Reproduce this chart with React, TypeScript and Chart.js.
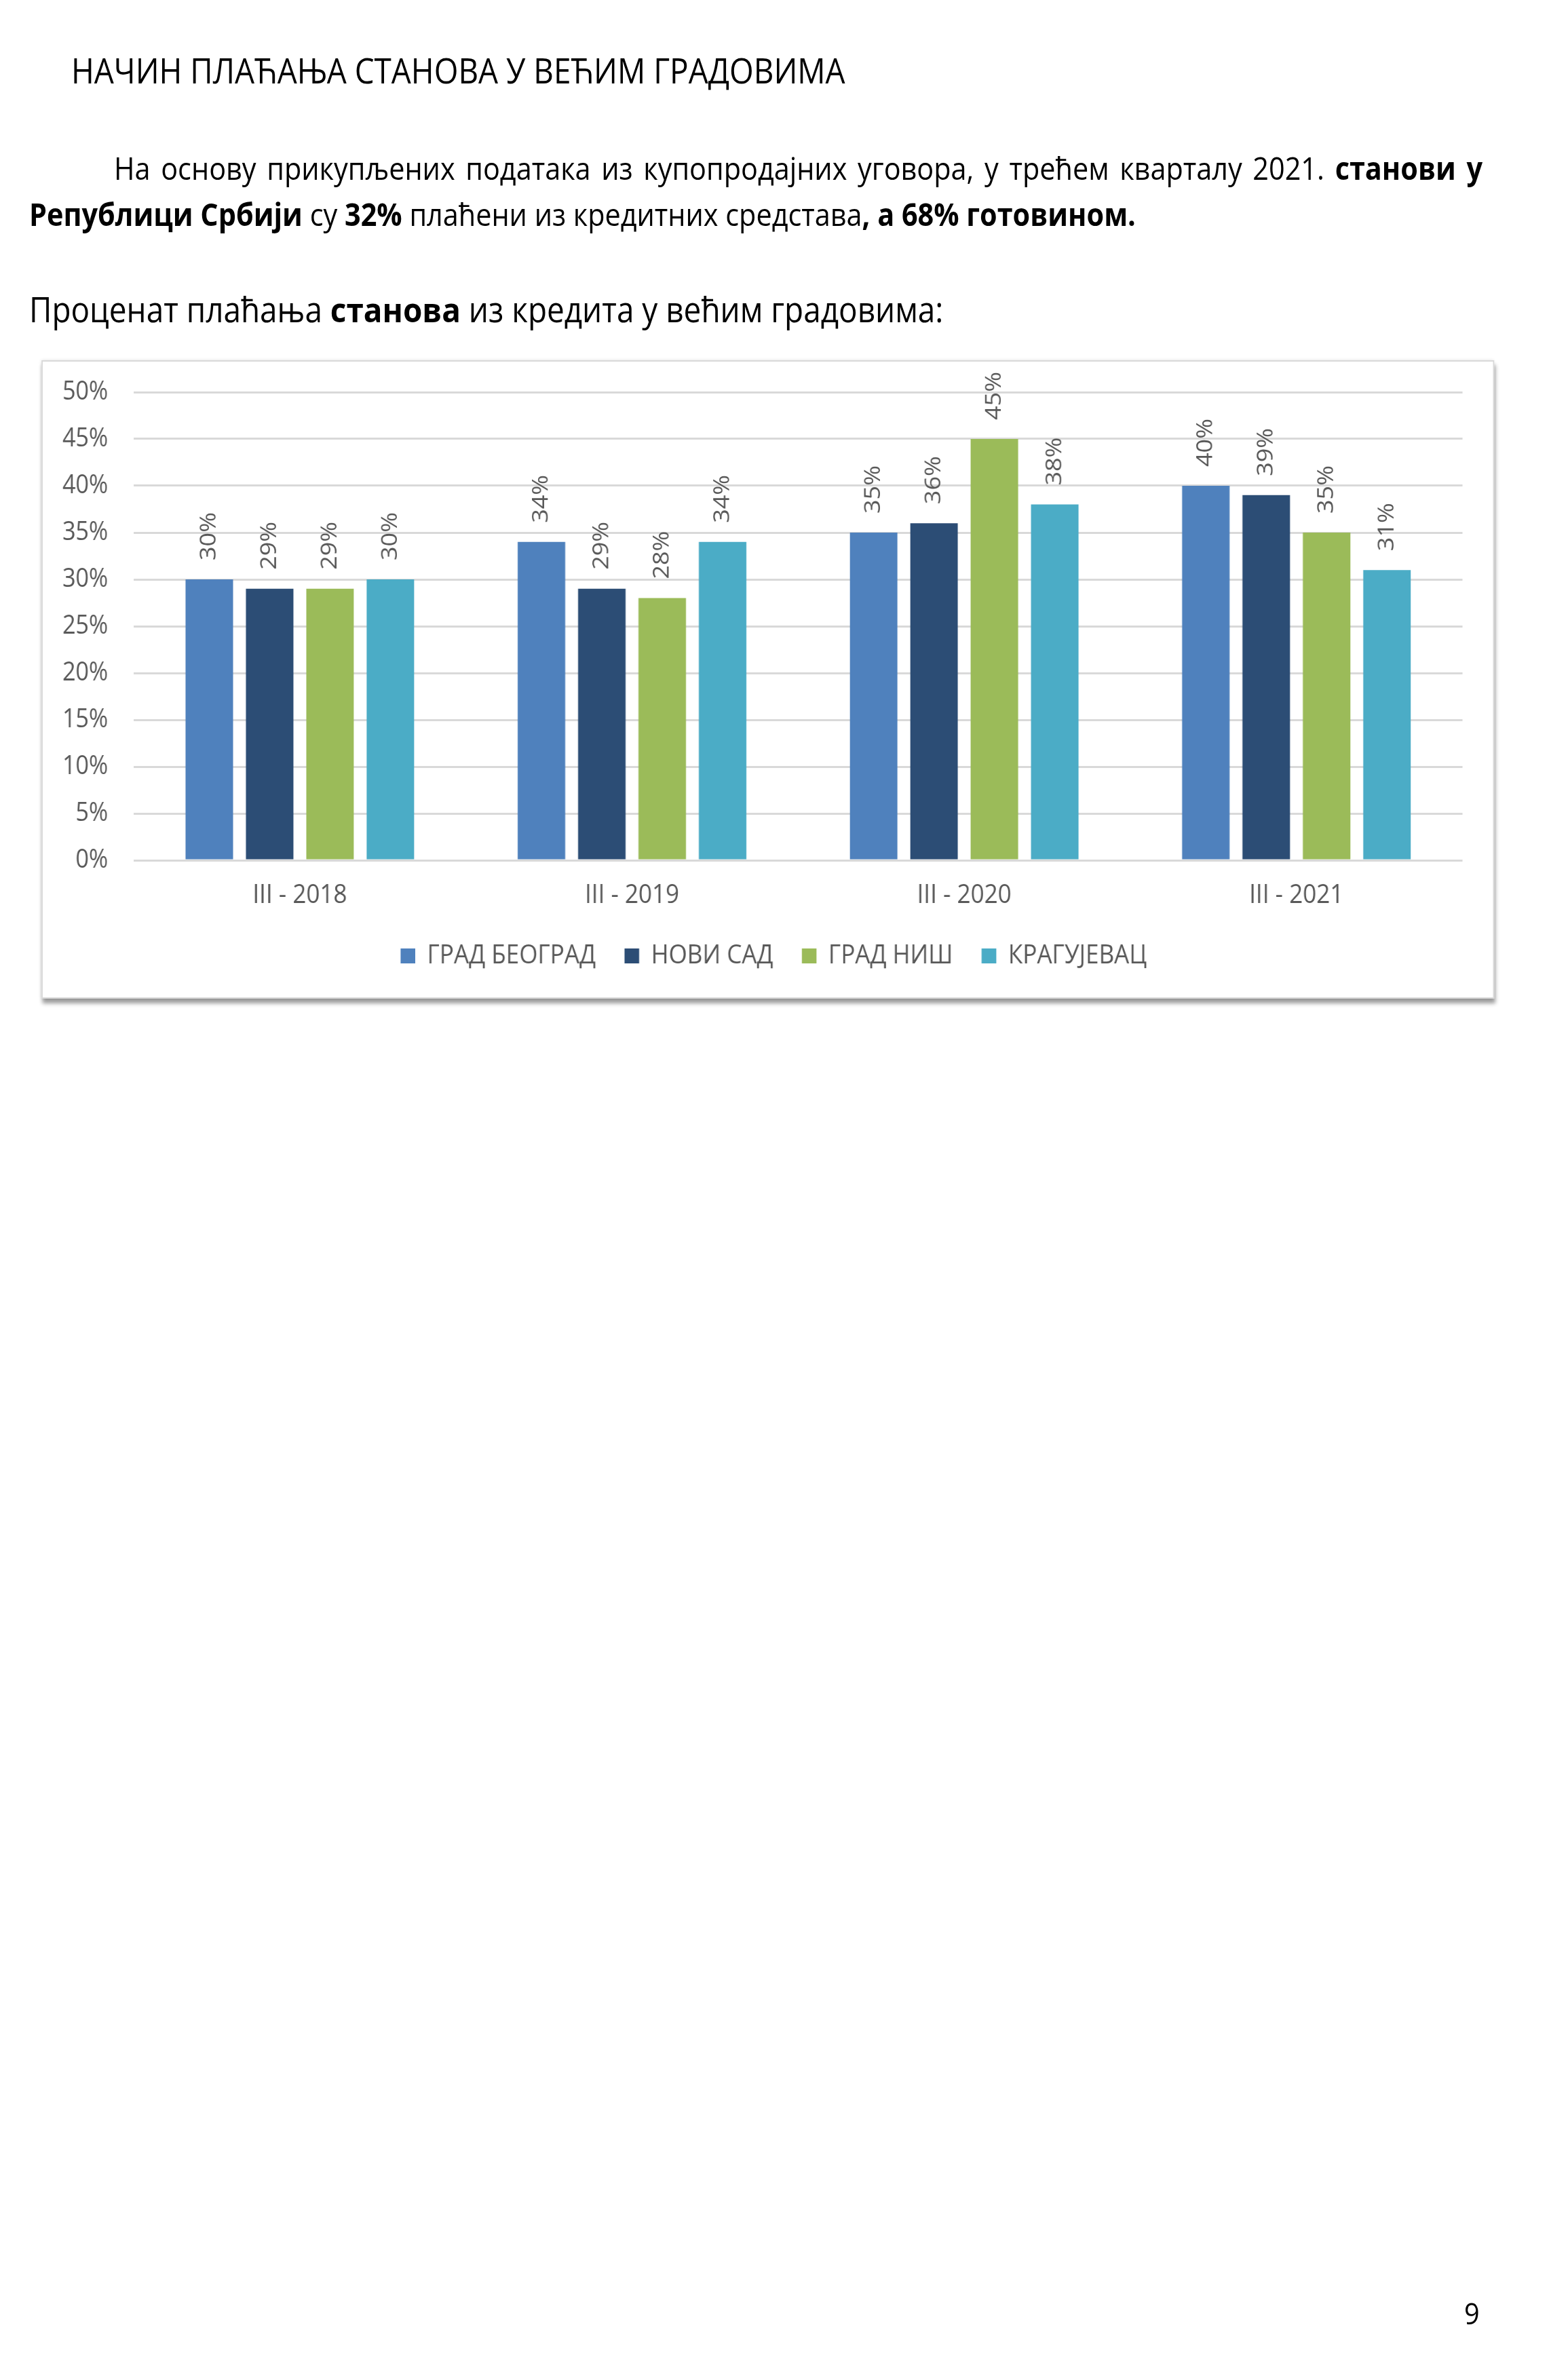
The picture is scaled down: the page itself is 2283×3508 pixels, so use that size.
import React, { useEffect, useRef } from "react";
import { Chart, registerables } from "chart.js";

Chart.register(...registerables);

// ---------- data ----------
const categories = ["III - 2018", "III - 2019", "III - 2020", "III - 2021"];
const seriesNames = ["ГРАД БЕОГРАД", "НОВИ САД", "ГРАД НИШ", "КРАГУЈЕВАЦ"];
const beograd = [30, 34, 35, 40];
const noviSad = [29, 29, 36, 39];
const nis = [29, 28, 45, 35];
const kragujevac = [30, 34, 38, 31];
const seriesColors = ["#4F81BD", "#2C4D75", "#9BBB59", "#4BACC6"];
const yTicks = [0, 5, 10, 15, 20, 25, 30, 35, 40, 45, 50];

// ---------- layout helpers ----------
const SX = 0.9; // horizontal squeeze of the page
const ux = (x: number) => x / SX;
const FONT = "'Open Sans', 'Noto Sans', sans-serif";
const GREY = "#595959";

const barLabelPlugin = {
  id: "barLabels",
  afterDatasetsDraw(chart: any) {
    const ctx = chart.ctx;
    ctx.save();
    ctx.font = `36px ${FONT}`;
    ctx.fillStyle = GREY;
    ctx.textAlign = "left";
    ctx.textBaseline = "middle";
    chart.data.datasets.forEach((ds: any, i: number) => {
      const meta = chart.getDatasetMeta(i);
      meta.data.forEach((bar: any, j: number) => {
        ctx.save();
        ctx.translate(bar.x, bar.y - 28);
        ctx.rotate(-Math.PI / 2);
        ctx.fillText(`${ds.data[j]}%`, 0, 0);
        ctx.restore();
      });
    });
    ctx.restore();
  },
};

// shift the legend's box so it is centred under the whole frame like the original
const legendShiftPlugin = {
  id: "legendShift",
  afterLayout(chart: any) {
    if (chart.legend) chart.legend.left += 71;
  },
};

const BOX_L = 61;
const BOX_T = 531;
const BOX_W = 2141;
const BOX_H = 941;

function BarChart() {
  const ref = useRef<HTMLCanvasElement | null>(null);
  useEffect(() => {
    if (!ref.current) return;
    const values = [beograd, noviSad, nis, kragujevac];
    const chart = new Chart(ref.current, {
      type: "bar",
      data: {
        labels: categories,
        datasets: seriesNames.map((name, i) => ({
          label: name,
          data: values[i],
          backgroundColor: seriesColors[i],
          borderColor: seriesColors[i],
          borderWidth: 0,
          categoryPercentage: 0.727,
          barPercentage: 0.787,
        })),
      },
      options: {
        animation: false,
        responsive: false,
        devicePixelRatio: 1,
        layout: { padding: { left: 0, right: 52, top: 47, bottom: 33.5 } },
        plugins: {
          legend: {
            position: "bottom",
            labels: {
              boxWidth: 24,
              boxHeight: 22,
              padding: 47,
              color: GREY,
              font: { family: FONT, size: 39 },
            },
          },
          tooltip: { enabled: false },
        },
        scales: {
          x: {
            grid: { display: false, drawTicks: false },
            border: { display: false },
            ticks: { color: GREY, font: { family: FONT, size: 39 }, padding: 28 },
            afterFit: (s: any) => {
              s.height = 74.5;
            },
          },
          y: {
            min: 0,
            max: 50,
            afterBuildTicks: (s: any) => {
              s.ticks = yTicks.map((v) => ({ value: v }));
            },
            grid: { color: "#d9d9d9", lineWidth: 3, drawTicks: false },
            border: { display: false },
            ticks: {
              color: GREY,
              font: { family: FONT, size: 38 },
              padding: 42,
              callback: (v: any) => `${v}%`,
            },
            afterFit: (s: any) => {
              s.width = 151;
              s.paddingTop = 10;
              s.paddingBottom = 10;
            },
          },
        },
      },
      plugins: [barLabelPlugin, legendShiftPlugin],
    });
    return () => chart.destroy();
  }, []);
  return (
    <canvas
      ref={ref}
      width={Math.round(ux(BOX_W))}
      height={BOX_H}
      style={{
        position: "absolute",
        left: ux(BOX_L),
        top: BOX_T,
        width: Math.round(ux(BOX_W)),
        height: BOX_H,
      }}
    />
  );
}

export default function App() {
  const text: React.CSSProperties = {
    position: "absolute",
    fontFamily: FONT,
    color: "#000",
    whiteSpace: "nowrap",
    margin: 0,
  };
  return (
    <div
      style={{
        position: "absolute",
        left: 0,
        top: 0,
        width: 2283,
        height: 3508,
        overflow: "hidden",
        background: "#fff",
      }}
    >
      <div
        style={{
          position: "absolute",
          left: 0,
          top: 0,
          width: ux(2283),
          height: 3508,
          transform: `scaleX(${SX})`,
          transformOrigin: "0 0",
        }}
      >
        <div style={{ ...text, left: ux(105), top: 78, fontSize: 51, lineHeight: "51px" }}>
          НАЧИН ПЛАЋАЊА СТАНОВА У ВЕЋИМ ГРАДОВИМА
        </div>

        <div
          style={{
            ...text,
            left: ux(43),
            top: 224,
            width: ux(2185 - 43),
            fontSize: 46,
            lineHeight: "46px",
            textIndent: ux(125),
            textAlign: "justify",
            textAlignLast: "justify",
          }}
        >
          На основу прикупљених података из купопродајних уговора, у трећем кварталу 2021.{" "}
          <b>станови у</b>
        </div>
        <div style={{ ...text, left: ux(43), top: 292, fontSize: 46, lineHeight: "46px" }}>
          <b>Републици Србији</b> су <b>32%</b> плаћени из кредитних средстава
          <b>, а 68% готовином.</b>
        </div>

        <div style={{ ...text, left: ux(43), top: 430, fontSize: 51, lineHeight: "51px" }}>
          Проценат плаћања <b>станова</b> из кредита у већим градовима:
        </div>

        <div
          style={{
            position: "absolute",
            left: ux(BOX_L),
            top: BOX_T,
            width: ux(BOX_W),
            height: BOX_H,
            boxSizing: "border-box",
            border: "2px solid #d9d9d9",
            background: "#fff",
            boxShadow: "2px 7px 6px rgba(0,0,0,0.38), 0 0 5px rgba(0,0,0,0.12)",
          }}
        />
        <BarChart />

        <div style={{ ...text, left: ux(2158), top: 3387, fontSize: 44, lineHeight: "44px" }}>9</div>
      </div>
    </div>
  );
}
